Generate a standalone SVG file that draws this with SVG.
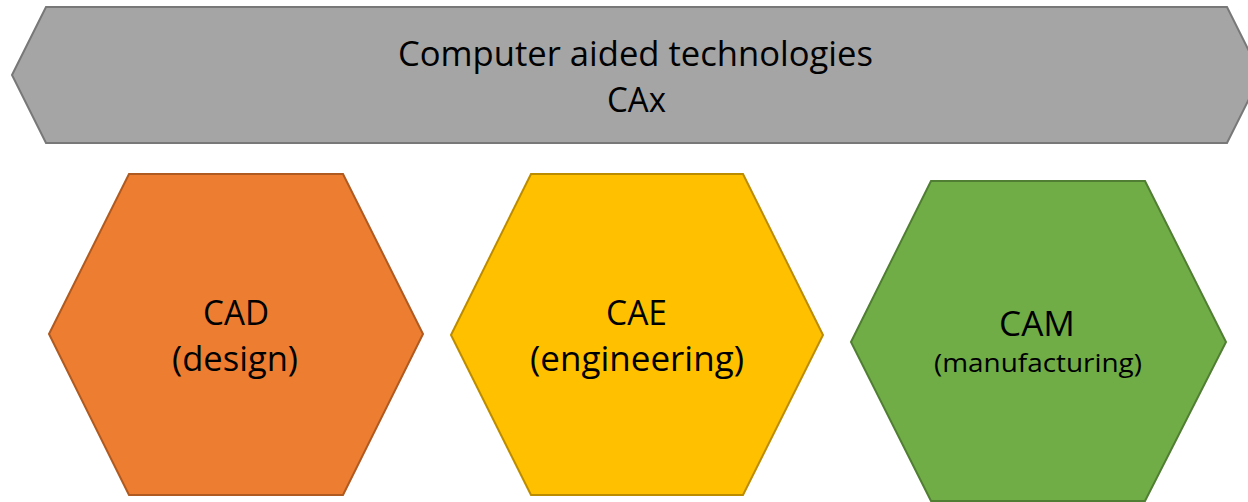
<svg xmlns="http://www.w3.org/2000/svg" width="1248" height="502" viewBox="0 0 1248 502">
<style>
  .shape { stroke-width: 2; stroke-linejoin: miter; }
  .lbl { font-family: "Open Sans", "Liberation Sans", sans-serif; fill: #000; text-anchor: middle; }
  .big { font-size: 35px; }
  .small { font-size: 25px; }
</style>
<rect width="1248" height="502" fill="#ffffff"/>
<g id="banner">
  <polygon class="shape" points="12,75 46,7 1227,7 1261,75 1227,143 46,143" fill="#a5a5a5" stroke="#787878"/>
  <text class="lbl big" x="635.5" y="66" textLength="475" lengthAdjust="spacingAndGlyphs">Computer aided technologies</text>
  <text class="lbl big" x="636.5" y="112" textLength="59" lengthAdjust="spacingAndGlyphs">CAx</text>
</g>
<g id="cad">
  <polygon class="shape" points="49,334 129,174 343,174 423,334 343,495 129,495" fill="#ed7d31" stroke="#ae5a21"/>
  <text class="lbl big" x="236" y="325" textLength="66" lengthAdjust="spacingAndGlyphs">CAD</text>
  <text class="lbl big" x="235" y="371" textLength="126" lengthAdjust="spacingAndGlyphs">(design)</text>
</g>
<g id="cae">
  <polygon class="shape" points="451,335 531,174 743,174 823,335 743,495 531,495" fill="#ffc000" stroke="#bc8c00"/>
  <text class="lbl big" x="636.5" y="325" textLength="61" lengthAdjust="spacingAndGlyphs">CAE</text>
  <text class="lbl big" x="637" y="371" textLength="214" lengthAdjust="spacingAndGlyphs">(engineering)</text>
</g>
<g id="cam">
  <polygon class="shape" points="851,342 931,181 1145,181 1226,342 1145,501 931,501" fill="#70ad47" stroke="#507e32"/>
  <text class="lbl big" x="1037" y="336" textLength="76" lengthAdjust="spacingAndGlyphs">CAM</text>
  <text class="lbl small" x="1038" y="372" textLength="208" lengthAdjust="spacingAndGlyphs">(manufacturing)</text>
</g>
<g id="connectors"></g>
</svg>
